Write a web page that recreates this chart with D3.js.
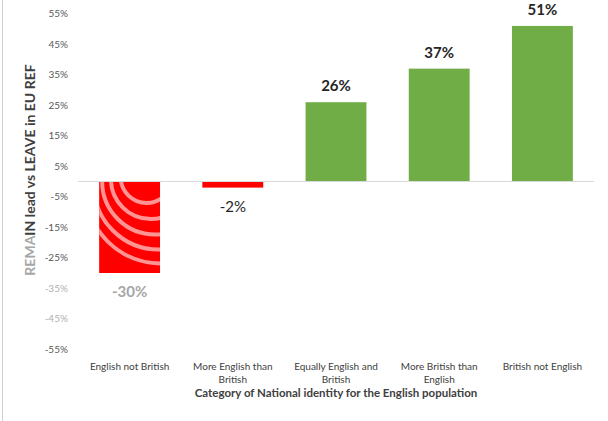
<!DOCTYPE html>
<html>
<head>
<meta charset="utf-8">
<script src="https://cdn.jsdelivr.net/npm/d3@7"></script>
<style>
  body { margin: 0; background: #fff; }
  svg { display: block; font-family: Lato, "Open Sans", sans-serif; }
</style>
</head>
<body>
<div id="chart"></div>
<script>
// data
var categories = ["English not British", "More English than British", "Equally English and British", "More British than English", "British not English"];
var catLines = [["English not British"], ["More English than", "British"], ["Equally English and", "British"], ["More British than", "English"], ["British not English"]];
var values = [-30, -2, 26, 37, 51];
var tickValues = [55, 45, 35, 25, 15, 5, -5, -15, -25, -35, -45, -55];

var W = 608, H = 421;

var x = d3.scaleBand().domain(categories).range([78, 594]).paddingInner(0.41).paddingOuter(0.205);
var y = d3.scaleLinear().domain([-55, 55]).range([349.25, 13.75]);

var svg = d3.select("#chart").append("svg")
    .attr("width", W)
    .attr("height", H);

// left frame edge
svg.append("line")
    .attr("x1", 2.5).attr("x2", 2.5)
    .attr("y1", 0).attr("y2", H)
    .style("stroke", "#d0d0d0");

// y axis labels (no line)
var yAxis = svg.append("g")
    .attr("transform", "translate(68,0)")
    .call(d3.axisLeft(y).tickValues(tickValues).tickSize(0).tickPadding(0)
        .tickFormat(function (d) { return d + "%"; }));
yAxis.select(".domain").remove();
yAxis.selectAll("text")
    .style("font-family", "Lato, sans-serif")
    .style("font-size", "10px")
    .style("fill", function (d) { return (d == -35 || d == -45) ? "#b0b0b0" : "#595959"; });

// bars
var bars = svg.selectAll(".bar")
    .data(values)
    .enter().append("rect")
    .attr("class", "bar")
    .attr("x", function (d, i) { return x(categories[i]); })
    .attr("width", x.bandwidth())
    .attr("y", function (d) { return y(Math.max(0, d)); })
    .attr("height", function (d) { return Math.abs(y(d) - y(0)); })
    .style("fill", function (d) { return d < 0 ? "#ff0000" : "#70ad47"; });

// pale swirl overlay on the first red bar
var b0 = x(categories[0]), bw = x.bandwidth();
svg.append("clipPath").attr("id", "clip0")
    .append("rect")
    .attr("x", b0).attr("width", bw)
    .attr("y", y(0)).attr("height", y(values[0]) - y(0));
var swirl = svg.append("g").attr("clip-path", "url(#clip0)");
[[0.78, 1.5, 26], [0.85, 0.8, 40], [0.92, 0, 53], [0.98, -1, 65], [1.02, -2, 76]].forEach(function (c) {
    swirl.append("circle")
        .attr("cx", b0 + bw * c[0])
        .attr("cy", y(c[1]))
        .attr("r", c[2])
        .style("fill", "none")
        .style("stroke", "#ff9494")
        .style("stroke-width", 4);
});

// zero line
svg.append("line")
    .attr("x1", 78).attr("x2", 594)
    .attr("y1", y(0)).attr("y2", y(0))
    .style("stroke", "#d9d9d9");

// value labels
svg.selectAll(".val")
    .data(values)
    .enter().append("text")
    .attr("class", "val")
    .attr("x", function (d, i) { return x(categories[i]) + bw / 2; })
    .attr("y", function (d) { return d < 0 ? y(d) + 24 : y(d) - 11; })
    .attr("text-anchor", "middle")
    .style("font-size", "15px")
    .style("font-weight", function (d) { return d == -2 ? "normal" : "bold"; })
    .style("fill", function (d) { return d == -30 ? "#a6a6a6" : "#262626"; })
    .text(function (d) { return d + "%"; });

// category labels
var cat = svg.selectAll(".cat")
    .data(catLines)
    .enter().append("text")
    .attr("class", "cat")
    .attr("text-anchor", "middle")
    .style("font-size", "10px")
    .style("fill", "#404040");
cat.selectAll("tspan")
    .data(function (d, i) { return d.map(function (t) { return { t: t, i: i }; }); })
    .enter().append("tspan")
    .attr("x", function (d) { return x(categories[d.i]) + bw / 2; })
    .attr("y", function (d, j) { return 370 + j * 13; })
    .text(function (d) { return d.t; });

// x axis title
svg.append("text")
    .attr("x", 336)
    .attr("y", 397)
    .attr("text-anchor", "middle")
    .style("font-size", "11.5px")
    .style("font-weight", "bold")
    .style("fill", "#404040")
    .text("Category of National identity for the English population");

// y axis title
var yt = svg.append("text")
    .attr("transform", "translate(35,170) rotate(-90)")
    .attr("text-anchor", "middle")
    .style("font-size", "14px")
    .style("font-weight", "bold")
    .style("fill", "#404040");
yt.append("tspan").style("fill", "#a6a6a6").text("REMA");
yt.append("tspan").text("IN lead vs LEAVE in EU REF");
</script>
</body>
</html>
